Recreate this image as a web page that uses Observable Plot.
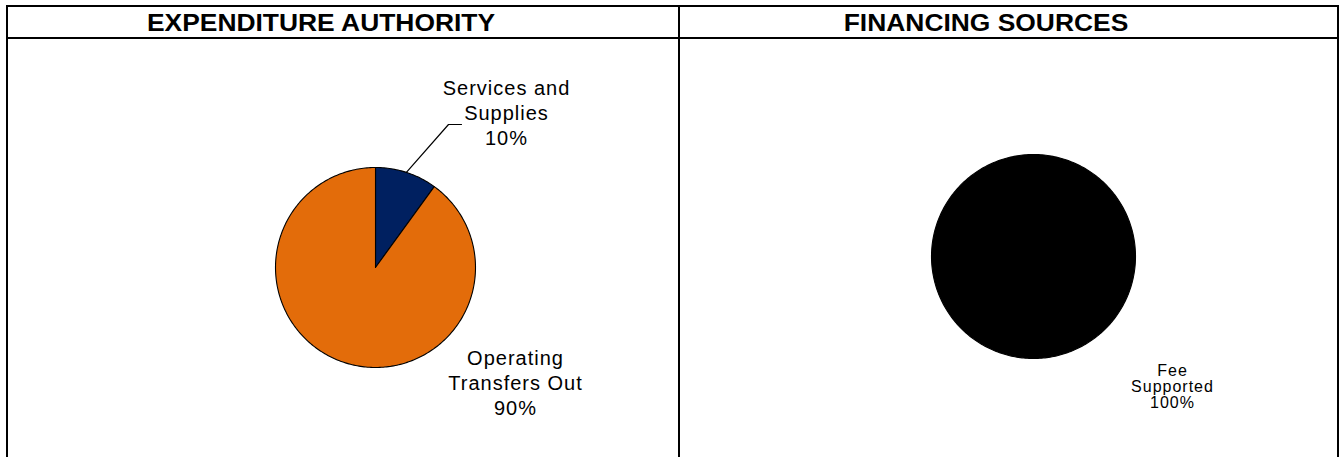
<!DOCTYPE html>
<html><head><meta charset="utf-8">
<script src="https://cdn.jsdelivr.net/npm/d3@7"></script>
<script src="https://cdn.jsdelivr.net/npm/@observablehq/plot@0.6"></script>
<style>
body{margin:0;background:#fff;font-family:"Liberation Sans",Arial,sans-serif;}
.line{position:absolute;background:#000;}
.title{position:absolute;top:23px;font-weight:bold;font-size:24px;white-space:nowrap;transform:translate(-50%,-50%) scaleX(1.1);line-height:1;color:#000;}
.panel{position:absolute;top:39px;}
.panel svg{font-family:"Liberation Sans",Arial,sans-serif;}
.panel svg text{letter-spacing:1px;}
</style></head><body>
<div id="root"></div>
<script>
// ---- data ----
const titles = ["EXPENDITURE AUTHORITY", "FINANCING SOURCES"];
const expCategories = ["Services and Supplies", "Operating Transfers Out"];
const expValues = [10, 90];
const expLabels = ["Services and\nSupplies", "Operating\nTransfers Out"];
const expColors = ["#002060", "#E36C0A"];
const finCategories = ["Fee Supported"];
const finValues = [100];
const finLabels = ["Fee\nSupported"];
const finColors = ["#000000"];

const root = document.getElementById("root");
function box(cls, l, t, w, h) {
  const d = document.createElement("div");
  d.className = cls;
  Object.assign(d.style, {left: l + "px", top: t + "px", width: w + "px", height: h + "px"});
  root.appendChild(d);
  return d;
}
// frame lines
box("line", 6, 5, 1333, 2);
box("line", 6, 37, 1333, 2);
box("line", 6, 5, 2, 452);
box("line", 678, 5, 2, 452);
box("line", 1337, 5, 2, 452);
// titles
[[titles[0], 321], [titles[1], 986]].forEach(([t, cx]) => {
  const d = document.createElement("div");
  d.className = "title";
  d.style.left = cx + "px";
  d.textContent = t;
  root.appendChild(d);
});

const fmt = d3.format(".0%");
function pie(o) {
  const {width, height, cx, cy, r, categories, values, labels, colors, labelOffsets, leader, fontSize, lineHeight} = o;
  const total = d3.sum(values);
  const arcs = d3.pie().sort(null).value(d => d)(values);
  const marks = [];
  arcs.forEach((a, i) => {
    const pts = [];
    const full = a.endAngle - a.startAngle > 2 * Math.PI - 1e-6;
    if (!full) pts.push({x: cx, y: cy});
    const n = Math.max(2, Math.ceil((a.endAngle - a.startAngle) / (Math.PI / 180)));
    for (let k = 0; k <= n; k++) {
      const ang = a.startAngle + (a.endAngle - a.startAngle) * k / n;
      pts.push({x: cx + r * Math.sin(ang), y: cy - r * Math.cos(ang)});
    }
    if (!full) pts.push({x: cx, y: cy});
    marks.push(Plot.line(pts, {x: "x", y: "y", fill: colors[i], stroke: full ? colors[i] : "#000", strokeWidth: 1.1, strokeLinejoin: "round"}));
  });
  const labelRows = arcs.map((a, i) => ({
    cat: categories[i],
    x: cx + labelOffsets[i][0],
    y: cy + labelOffsets[i][1],
    text: labels[i] + "\n" + fmt(values[i] / total)
  }));
  marks.push(Plot.text(labelRows, {x: "x", y: "y", text: "text", fontSize, lineHeight, textAnchor: "middle", fill: "#000"}));
  if (leader) {
    const a = arcs[leader.index];
    const mid = (a.startAngle + a.endAngle) / 2;
    const pts = [
      {x: cx + r * Math.sin(mid), y: cy - r * Math.cos(mid)},
      {x: cx + leader.elbow[0], y: cy + leader.elbow[1]},
      {x: cx + leader.end[0], y: cy + leader.end[1]}
    ];
    marks.push(Plot.line(pts, {x: "x", y: "y", stroke: "#000", strokeWidth: 1.2}));
  }
  return Plot.plot({
    width, height, margin: 0,
    x: {domain: [0, width], range: [0, width], axis: null},
    y: {domain: [0, height], range: [0, height], axis: null},
    marks
  });
}

const left = pie({
  width: 670, height: 418, cx: 367, cy: 228, r: 100,
  categories: expCategories, values: expValues, labels: expLabels, colors: expColors,
  labelOffsets: [[131, -156], [140, 114]],
  leader: {index: 0, elbow: [73, -143], end: [86, -143]},
  fontSize: 20, lineHeight: 1.25
});
const lp = document.createElement("div");
lp.className = "panel"; lp.style.left = "8px";
lp.appendChild(left); root.appendChild(lp);

const right = pie({
  width: 657, height: 418, cx: 353, cy: 217, r: 102,
  categories: finCategories, values: finValues, labels: finLabels, colors: finColors,
  labelOffsets: [[139, 130]],
  leader: null,
  fontSize: 16, lineHeight: 1.0
});
const rp = document.createElement("div");
rp.className = "panel"; rp.style.left = "680px";
rp.appendChild(right); root.appendChild(rp);
</script>
</body></html>
